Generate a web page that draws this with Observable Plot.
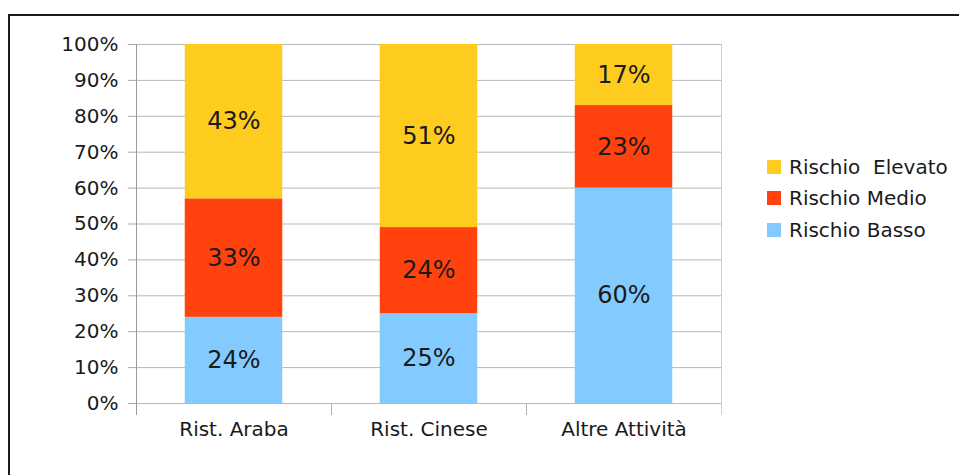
<!DOCTYPE html>
<html><head><meta charset="utf-8">
<script src="https://cdn.jsdelivr.net/npm/d3@7"></script>
<script src="https://cdn.jsdelivr.net/npm/@observablehq/plot@0.6"></script>
<style>
body{margin:0;background:#fff;}
#wrap{position:relative;width:959px;height:475px;overflow:hidden;background:#fff;font-family:"DejaVu Sans",sans-serif;}
#frame{position:absolute;left:8px;top:14px;width:1000px;height:600px;border-left:2px solid #1a1a1a;border-top:2px solid #1a1a1a;}
#chart{position:absolute;left:0;top:0;}
#legend{position:absolute;left:767px;top:151px;font-size:20px;color:#1a1a1a;}
.row{display:flex;align-items:center;height:31.5px;white-space:pre;}
.sw{width:14px;height:14px;margin-right:8px;flex:none;}
</style></head><body>
<div id="wrap"><div id="frame"></div><div id="chart"></div><div id="legend"></div></div>
<script>
const categories = ["Rist. Araba", "Rist. Cinese", "Altre Attività"];
const risks = ["Rischio Basso", "Rischio Medio", "Rischio  Elevato"];
const basso = [24, 25, 60];
const medio = [33, 24, 23];
const elevato = [43, 51, 17];
const colors = ["#83caff", "#ff420e", "#fdcc1e"];
const yTicks = [0, 10, 20, 30, 40, 50, 60, 70, 80, 90, 100];

const W = 959, H = 475, mL = 136, mR = 238, mT = 44, mB = 72;
const band = (W - mL - mR) / categories.length;
const series = [basso, medio, elevato];
const rows = [];
categories.forEach((c, i) => series.forEach((arr, j) => rows.push({cat: c, risk: risks[j], value: arr[i]})));

const chart = Plot.plot({
  width: W, height: H,
  marginLeft: mL, marginRight: mR, marginTop: mT, marginBottom: mB,
  style: {fontFamily: "DejaVu Sans", fontSize: "20px", color: "#1a1a1a", background: "transparent"},
  x: {domain: categories, padding: 0, label: null},
  y: {domain: [0, 100], label: null},
  color: {domain: risks, range: colors},
  marks: [
    Plot.ruleY(yTicks, {y: d => d, stroke: "#b8b8b8", strokeWidth: 1}),
    Plot.axisY({ticks: yTicks, tickFormat: d => d + "%", tickSize: 8, tickPadding: 10, stroke: "#a8a8a8", fill: "#1a1a1a", label: null, fontSize: 20}),
    Plot.barY(rows, {x: "cat", y: "value", fill: "risk", order: risks, insetLeft: band / 4, insetRight: band / 4}),
    Plot.text(rows, Plot.stackY({x: "cat", y: "value", z: "risk", order: risks, text: d => d.value + "%", fontSize: 24, fill: "#1a1a1a"})),
    Plot.axisX({tickSize: 0, tickPadding: 18, label: null, fontSize: 20, fill: "#1a1a1a"}),
    Plot.ruleX([categories[0]], {x: d => d, dx: -band / 2, y1: 100, y2: 0, insetBottom: -12, stroke: "#9a9a9a"}),
    Plot.ruleX(categories.slice(1), {x: d => d, dx: -band / 2, y1: 0, y2: 0, insetBottom: -12, stroke: "#b0b0b0"}),
    Plot.ruleX([categories[categories.length - 1]], {x: d => d, dx: band / 2, y1: 100, y2: 0, insetBottom: -12, stroke: "#cfcfcf"})
  ]
});
document.getElementById("chart").appendChild(chart);

const legend = document.getElementById("legend");
[2, 1, 0].forEach(j => {
  const row = document.createElement("div");
  row.className = "row";
  const sw = document.createElement("span");
  sw.className = "sw";
  sw.style.background = colors[j];
  const t = document.createElement("span");
  t.textContent = risks[j];
  row.appendChild(sw); row.appendChild(t);
  legend.appendChild(row);
});
</script>
</body></html>
